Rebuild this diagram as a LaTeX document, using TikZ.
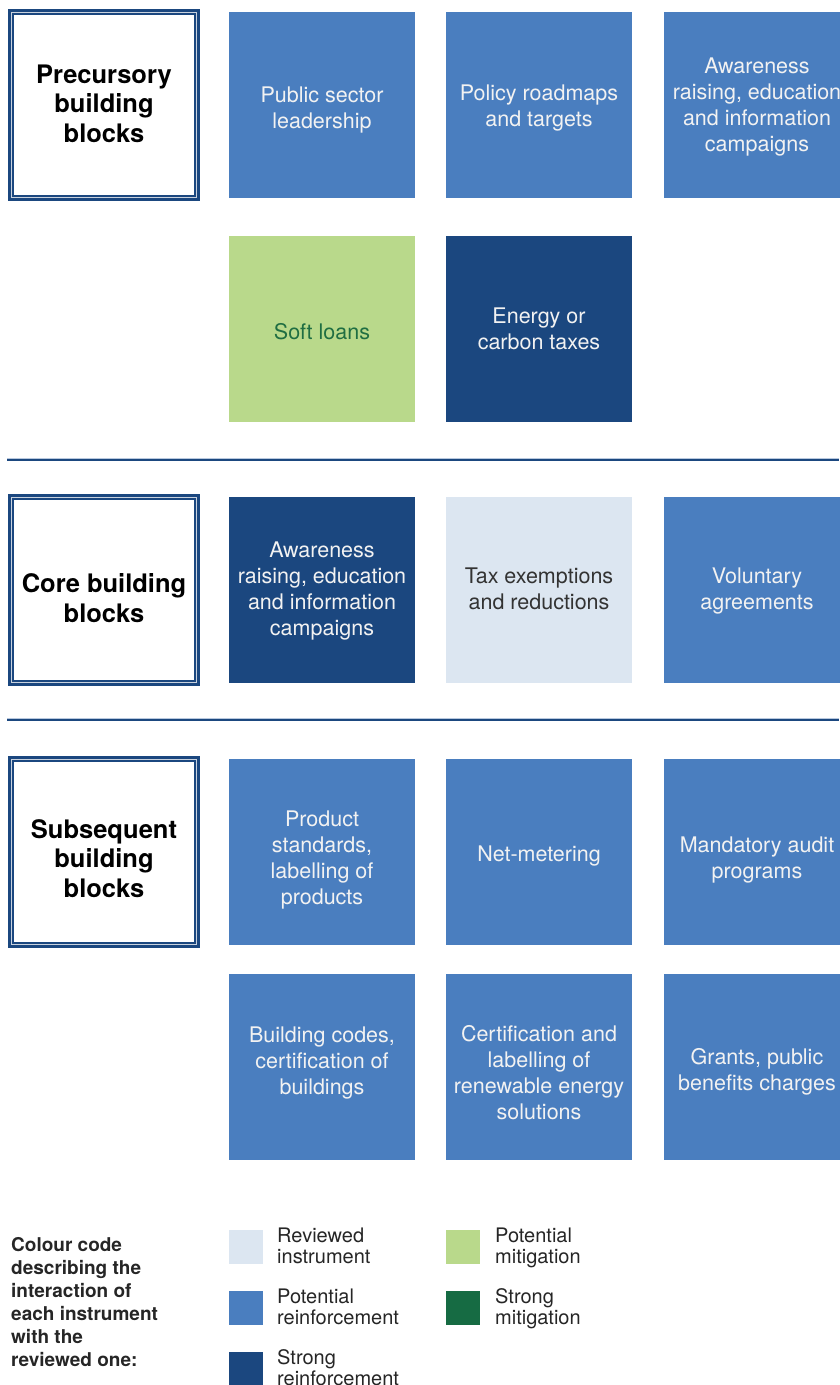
\documentclass[tikz,border=0pt]{standalone}
\usepackage{fontspec}
\setmainfont{TeX Gyre Heros}
\definecolor{mblue}{HTML}{4A7EBF}
\definecolor{dblue}{HTML}{1B477F}
\definecolor{lblue}{HTML}{DCE6F1}
\definecolor{lgreen}{HTML}{B9D98B}
\definecolor{dgreen}{HTML}{166B43}
\definecolor{sgreen}{HTML}{1F6E42}
\definecolor{sepl}{HTML}{B8C8DE}
\definecolor{innerc}{HTML}{C9D2DE}
% centred lines, raised by #1 pt without changing the box size
\newcommand{\tx}[2]{\raisebox{#1pt}[\height][\depth]{\begin{tabular}{@{}c@{}}#2\end{tabular}}}
\newcommand{\tl}[1]{\begin{tabular}{@{}l@{}}#1\end{tabular}}
\begin{document}
\begin{tikzpicture}[x=1pt,y=-1pt,
  box/.style={minimum width=186pt, minimum height=186pt, inner sep=0pt,
    text=white!95!black, font=\fontsize{21.5}{26}\selectfont},
  potbox/.style={box, fill=mblue},
  strbox/.style={box, fill=dblue},
  revbox/.style={box, fill=lblue, text=black!80},
  mitbox/.style={box, fill=lgreen, text=sgreen},
  hdrbox/.style={draw=dblue, line width=6pt, fill=white, minimum width=186pt, minimum height=186pt,
    inner sep=0pt, font=\fontsize{25.5}{29.5}\bfseries\selectfont},
  innerline/.style={draw=innerc, line width=0.8pt},
  sepline/.style={draw=dblue, line width=2pt},
  seplight/.style={draw=sepl, line width=1pt},
  keysq/.style={minimum width=34pt, minimum height=34pt, inner sep=0pt},
  keytxt/.style={anchor=north west, inner sep=0pt, text=black!85, font=\fontsize{20}{21}\selectfont},
  legtxt/.style={anchor=north west, inner sep=0pt, text=black!85, font=\fontsize{19}{23}\bfseries\selectfont}
]
\useasboundingbox (0,0) rectangle (839,1385);
\fill[white] (0,0) rectangle (839,1385);

% Precursory
\node[hdrbox] (h1) at (104,105) {\tx{-2}{Precursory\\building\\blocks}};
\node[potbox] (a1) at (322,105) {\tx{-5}{Public sector\\leadership}};
\node[potbox] (a2) at (539,105) {\tx{-3}{Policy roadmaps\\and targets}};
\node[potbox] (a3) at (757,105) {\tx{-2}{Awareness\\raising, education\\and information\\campaigns}};
\node[mitbox] (b1) at (322,329) {\tx{-5}{Soft loans}};
\node[strbox] (b2) at (539,329) {\tx{-2}{Energy or\\carbon taxes}};

% separator 1
\coordinate (s1a) at (7,459.8);
\coordinate (s1b) at (839,459.8);
\draw[seplight] ([yshift=1.6pt]s1a) -- ([yshift=1.6pt]s1b);
\draw[sepline] (s1a) -- (s1b);

% Core
\node[hdrbox] (h2) at (104,590) {\tx{-11.5}{Core building\\blocks}};
\node[strbox] (c1) at (322,590) {\tx{-1}{Awareness\\raising, education\\and information\\campaigns}};
\node[revbox] (c2) at (539,590) {\tx{-1}{Tax exemptions\\and reductions}};
\node[potbox] (c3) at (757,590) {\tx{-1}{Voluntary\\agreements}};

% separator 2
\coordinate (s2a) at (7,719.8);
\coordinate (s2b) at (839,719.8);
\draw[seplight] ([yshift=1.6pt]s2a) -- ([yshift=1.6pt]s2b);
\draw[sepline] (s2a) -- (s2b);

% Subsequent
\node[hdrbox] (h3) at (104,852) {\tx{-10}{Subsequent\\building\\blocks}};
\node[potbox] (d1) at (322,852) {\tx{-8}{Product\\standards,\\labelling of\\products}};
\node[potbox] (d2) at (539,852) {\tx{-4}{Net-metering}};
\node[potbox] (d3) at (757,852) {\tx{-8}{Mandatory audit\\programs}};
\node[potbox] (e1) at (322,1067) {\tx{4}{Building codes,\\certification of\\buildings}};
\node[potbox] (e2) at (539,1067) {\tx{-8}{Certification and\\labelling of\\renewable energy\\solutions}};
\node[potbox] (e3) at (757,1067) {\tx{-5}{Grants, public\\benefits charges}};

% inner thin lines of header boxes
\foreach \h in {h1,h2,h3}{
  \draw[innerline] ([shift={(3.4,3.4)}]\h.north west) rectangle ([shift={(-3.4,-3.4)}]\h.south east);
}

% Legend
\node[legtxt] (leg) at (11,1234.9) {\tl{Colour code\\describing the\\interaction of\\each instrument\\with the\\reviewed one:}};
\node[keysq, fill=lblue] (k1) at (246,1247) {};
\node[keysq, fill=mblue] (k2) at (246,1308) {};
\node[keysq, fill=dblue] (k3) at (246,1369) {};
\node[keysq, fill=lgreen] (k4) at (463,1247) {};
\node[keysq, fill=dgreen] (k5) at (463,1308) {};
\node[keytxt] (t1) at (277,1227.3) {\tl{Reviewed\\instrument}};
\node[keytxt] (t2) at (277,1288.8) {\tl{Potential\\reinforcement}};
\node[keytxt] (t3) at (277,1349) {\tl{Strong\\reinforcement}};
\node[keytxt] (t4) at (495,1227.3) {\tl{Potential\\mitigation}};
\node[keytxt] (t5) at (495,1288.8) {\tl{Strong\\mitigation}};
\end{tikzpicture}
\end{document}
